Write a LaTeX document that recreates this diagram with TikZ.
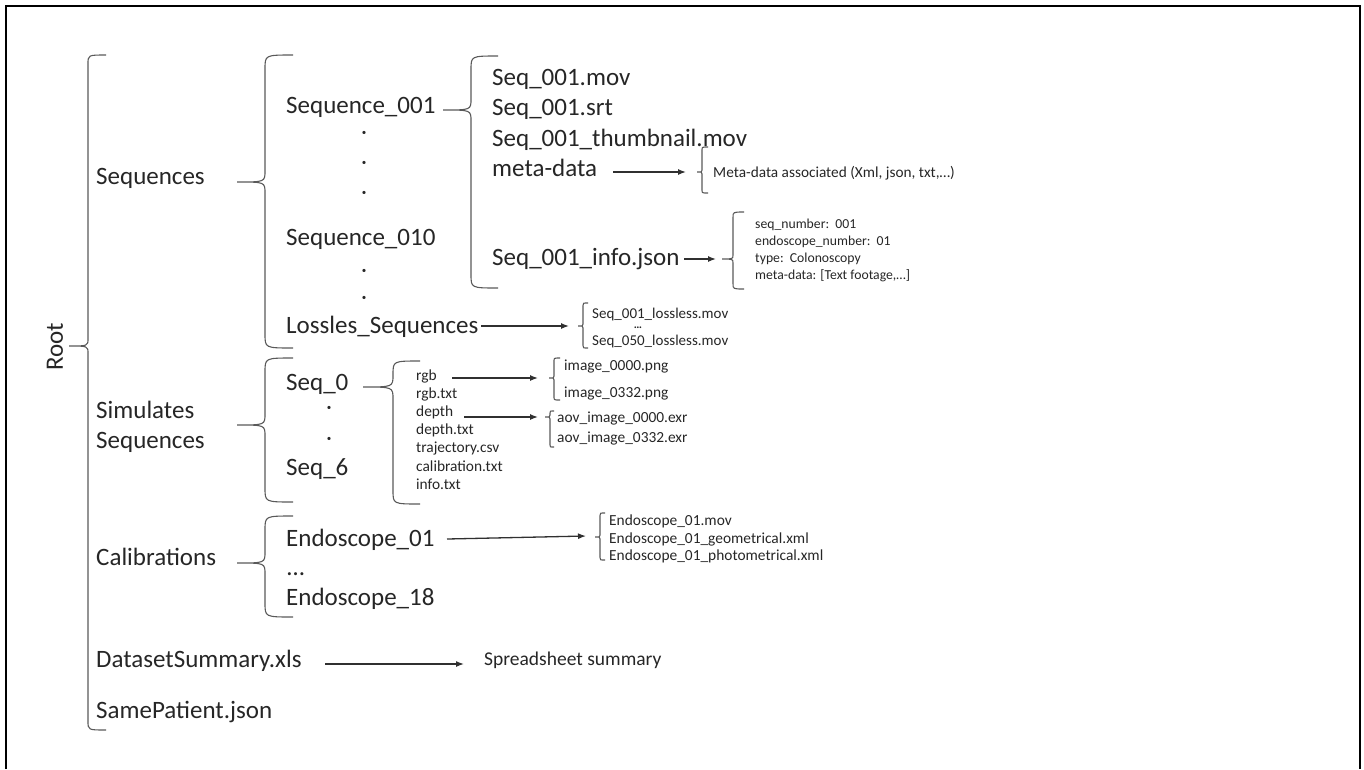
\documentclass[tikz,border=0pt]{standalone}
\usepackage{fontspec}
\setmainfont{Carlito}
\usetikzlibrary{arrows.meta}
\definecolor{txt}{HTML}{262626}
\definecolor{ln}{HTML}{303030}
\newcommand\brc[6]{%
 \draw[brcline] ({#1+#5},#2) .. controls (#1,#2) .. (#1,{#2+0.5*#5}) -- (#1,{#3-0.4*#6}) .. controls (#1,#3) .. ({#1-#6},#3) .. controls (#1,#3) .. (#1,{#3+0.4*#6}) -- (#1,{#4-0.5*#5}) .. controls (#1,#4) .. ({#1+#5},#4);}
\tikzset{
 x=1pt, y=-1pt,
 brcline/.style={draw=ln!80, line width=1.1pt},
 big/.style={font=\fontsize{25}{30}\selectfont, text=txt, inner sep=0pt, anchor=base west},
 mid/.style={font=\fontsize{15.4}{18}\selectfont, text=txt, inner sep=0pt, anchor=base west},
 sml/.style={font=\fontsize{13.7}{16}\selectfont, text=txt, inner sep=0pt, anchor=base west},
 dotn/.style={font=\fontsize{9}{10}\selectfont, text=txt, inner sep=0pt, anchor=center},
 arr/.style={draw=ln, line width=1.3pt, -{Latex[length=8pt,width=6pt]}},
}
\begin{document}
\begin{tikzpicture}
\useasboundingbox (0,0) rectangle (1364,769);
\draw[line width=2.6pt, black] (6,769) -- (6,6) -- (1360,6) -- (1360,769);

% Root
\node[font=\fontsize{25}{30}\selectfont, text=txt, rotate=90, inner sep=0pt] (root) at (55,347) {Root};
\brc{88}{55}{346}{730}{18}{19}

% level 1
\node[big] (sequences) at (96,184) {Sequences};
\node[big] (sim1) at (96,418) {Simulates};
\node[big] (sim2) at (96,448) {Sequences};
\node[big] (calib) at (96,565) {Calibrations};
\node[big] (dataset) at (96,667) {DatasetSummary.xls};
\node[big] (samepat) at (96,718) {SamePatient.json};

\brc{265}{55}{182}{348}{28}{28}
\brc{265}{358}{425}{502}{28}{28}
\brc{265}{516}{563}{617}{28}{28}

% level 2 : sequences
\node[big] (seq001) at (286,113) {Sequence\_001};
\node[dotn] (d1) at (364,133) {•};
\node[dotn] (d2) at (364,163) {•};
\node[dotn] (d3) at (364,193) {•};
\node[big] (seq010) at (286,245) {Sequence\_010};
\node[dotn] (d4) at (364,271) {•};
\node[dotn] (d5) at (364,298) {•};
\node[big] (lossles) at (286,333) {Lossles\_Sequences};

% level 2 : simulated
\node[big] (seq0) at (286,390) {Seq\_0};
\node[dotn] (d6) at (329,408) {•};
\node[dotn] (d7) at (329,439) {•};
\node[big] (seq6) at (286,475) {Seq\_6};

% level 2 : calibrations
\node[big, text height=3pt, text depth=0pt] (endodots) at (287,575) {…};
\node[big] (endo01) at (286,546) {Endoscope\_01};
\node[big] (endo18) at (286,605) {Endoscope\_18};

% Sequence_001 contents
\brc{471}{56}{110}{288}{27}{28}
\node[big] (mov) at (492,85) {Seq\_001.mov};
\node[big] (srt) at (492,115) {Seq\_001.srt};
\node[big] (thumb) at (492,146) {Seq\_001\_thumbnail.mov};
\node[big] (meta) at (492,176) {meta-data};
\node[big] (info) at (492,265) {Seq\_001\_info.json};

\coordinate (metaA) at (613,172);
\coordinate (metaB) at (686,172);
\draw[arr] (metaA) -- (metaB);
\brc{702}{147}{172}{193}{6}{5}
\node[mid, font=\fontsize{15.3}{18}\selectfont] (metatxt) at (713,177) {Meta-data associated (Xml, json, txt,…)};

\coordinate (infoA) at (684,259);
\coordinate (infoB) at (716,259);
\draw[arr] (infoA) -- (infoB);
\brc{733}{212}{259}{289}{11}{11}
\node[sml] (i1) at (755,228) {seq\_number:\ \ 001};
\node[sml] (i2) at (755,245) {endoscope\_number:\ \ 01};
\node[sml] (i3) at (755,262) {type:\ \ Colonoscopy};
\node[sml] (i4) at (755,279) {meta-data: [Text footage,…]};

% lossless
\coordinate (lossA) at (481,326);
\coordinate (lossB) at (569,326);
\draw[arr] (lossA) -- (lossB);
\brc{583}{303}{326}{348}{5}{5}
\node[mid, font=\fontsize{15}{18}\selectfont] (l1) at (592,318) {Seq\_001\_lossless.mov};
\node[font=\fontsize{11.5}{12}\selectfont\bfseries, text=txt, inner sep=0pt, anchor=center] (l2) at (638,328) {…};
\node[mid, font=\fontsize{15}{18}\selectfont] (l3) at (592,345) {Seq\_050\_lossless.mov};

% Seq_0 contents
\brc{393}{361}{387}{504}{27}{30}
\node[mid] (rgb) at (416,380) {rgb};
\node[mid] (rgbtxt) at (416,398.2) {rgb.txt};
\node[mid] (depth) at (416,416.4) {depth};
\node[mid] (depthtxt) at (416,434.6) {depth.txt};
\node[mid] (traj) at (416,452.8) {trajectory.csv};
\node[mid] (calibtxt) at (416,471) {calibration.txt};
\node[mid] (infotxt) at (416,489.2) {info.txt};

\coordinate (rgbA) at (452,378);
\coordinate (rgbB) at (538,378);
\draw[arr] (rgbA) -- (rgbB);
\brc{554}{358}{378}{400}{6}{5}
\node[mid] (img0) at (564,370) {image\_0000.png};
\node[mid] (img1) at (564,397) {image\_0332.png};

\coordinate (depA) at (464,417);
\coordinate (depB) at (538,417);
\draw[arr] (depA) -- (depB);
\brc{550}{411}{417}{447}{4}{5}
\node[mid] (aov0) at (557,422) {aov\_image\_0000.exr};
\node[mid] (aov1) at (557,442) {aov\_image\_0332.exr};

% endoscope files
\coordinate (endA) at (447,539);
\coordinate (endB) at (586,536);
\draw[arr] (endA) -- (endB);
\brc{600}{513}{537}{560}{5}{5}
\node[mid] (e1) at (609,525) {Endoscope\_01.mov};
\node[mid] (e2) at (609,543) {Endoscope\_01\_geometrical.xml};
\node[mid] (e3) at (609,560) {Endoscope\_01\_photometrical.xml};

% dataset summary
\coordinate (dsA) at (325,664);
\coordinate (dsB) at (464,664);
\draw[arr] (dsA) -- (dsB);
\node[big, font=\fontsize{19.5}{23}\selectfont] (spread) at (484,665) {Spreadsheet summary};
\end{tikzpicture}
\end{document}
